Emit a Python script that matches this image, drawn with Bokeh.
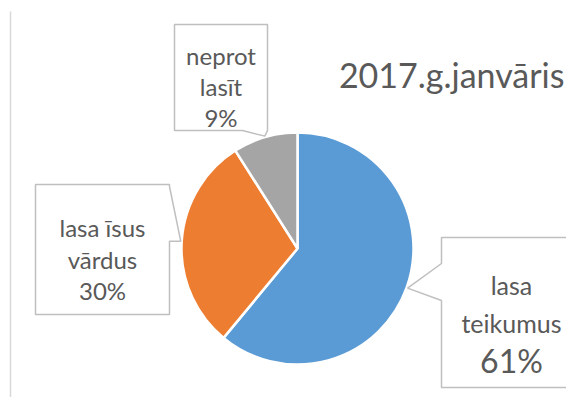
import math
from bokeh.plotting import figure
from bokeh.models import Range1d, ColumnDataSource
from bokeh.core.properties import value
from bokeh.embed import file_html
from bokeh.resources import INLINE

# ---- data ----
title = "2017.g.janvāris"
categories = ["lasa teikumus", "lasa īsus vārdus", "neprot lasīt"]
label_lines = [["lasa", "teikumus"], ["lasa īsus", "vārdus"], ["neprot", "lasīt"]]
values = [61, 30, 9]
colors = ["#5B9BD5", "#ED7D31", "#A5A5A5"]

# ---- layout (picture pixel coordinates, y downward) ----
W, H = 566, 397
def Y(y):
    return H - y

CX, CY, R = 297, 248, 116
TEXT = "#595959"
BORDER = "#BFBFBF"
FONT = value("Lato")

# callout boxes: left, top, right, bottom, pointer side, base1, base2
boxes = [
    (441, 237, 580, 387, "left", 263, 300),
    (35, 184, 169, 314, "right", 186, None),
    (174, 24, 267, 130, "bottom", 242, 267),
]
text_x = [511, 102, 220.5]
# baselines for each label line (name lines..., percent)
baselines = [
    [284, 322, 360],
    [227, 259, 290],
    [55, 86, 117],
]
name_sizes = ["25px", "24px", "24px"]
pct_sizes = ["32px", "24px", "24px"]

p = figure(width=W, height=H, x_range=Range1d(0, W), y_range=Range1d(0, H),
           output_backend="svg", toolbar_location=None, x_axis_type=None, y_axis_type=None,
           min_border=0, outline_line_color=None)
p.grid.visible = False
p.background_fill_color = "white"
p.border_fill_color = "white"

# chart-area border lines
p.segment(x0=[10, 580], y0=[Y(11), Y(11)], x1=[10, 580], y1=[Y(413), Y(413)],
          line_color="#D9D9D9", line_width=1.5)

# pie
total = float(sum(values))
starts, ends, mids = [], [], []
a = math.pi / 2
for v in values:
    e = a - v / total * 2 * math.pi
    starts.append(a)
    ends.append(e)
    mids.append((a + e) / 2)
    a = e
src = ColumnDataSource(dict(start=starts, end=ends, color=colors, cat=categories, val=values))
p.wedge(x=CX, y=Y(CY), radius=R, start_angle="start", end_angle="end", direction="clock",
        fill_color="color", line_color="white", line_width=2.5, source=src)

# callouts
for i, (l, t, r, b, side, b1, b2) in enumerate(boxes):
    tx = CX + (R + 1) * math.cos(mids[i])
    ty = CY - (R + 1) * math.sin(mids[i])
    if side == "left":
        pts = [(l, t), (r, t), (r, b), (l, b), (l, b2), (tx, ty), (l, b1)]
    elif side == "right":
        pts = [(l, t), (r, t), (r, b1), (tx, ty), (r, ty), (r, b), (l, b)]
    else:
        pts = [(l, t), (r, t), (r, b), (b2, b), (tx, ty), (b1, b), (l, b)]
    p.patch(x=[q[0] for q in pts], y=[Y(q[1]) for q in pts], fill_color="white",
            line_color=BORDER, line_width=1.5)
    xc = text_x[i]
    for j, txt in enumerate(label_lines[i]):
        p.text(x=[xc], y=[Y(baselines[i][j])], text=[txt], text_font=FONT,
               text_font_size=name_sizes[i], text_color=TEXT, text_align="center",
               text_baseline="alphabetic")
    p.text(x=[xc], y=[Y(baselines[i][-1])], text=[f"{values[i]}%"], text_font=FONT,
           text_font_size=pct_sizes[i], text_color=TEXT, text_align="center",
           text_baseline="alphabetic")

# title
p.text(x=[564], y=[Y(74)], text=[title], text_font=FONT, text_font_size="34px",
       text_color=TEXT, text_align="right", text_baseline="alphabetic")

open("out.html", "w").write(file_html(p, INLINE))
